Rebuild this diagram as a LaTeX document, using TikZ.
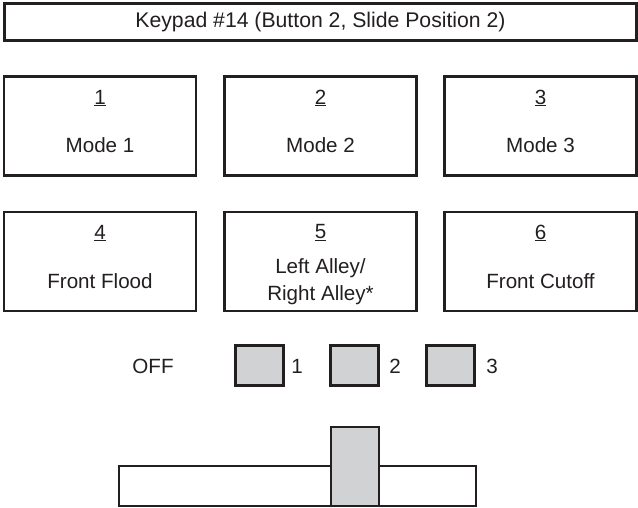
\documentclass[tikz,border=0pt]{standalone}
\usepackage{fontspec}
\setmainfont{Liberation Sans}
\definecolor{ink}{HTML}{231F20}
\definecolor{knob}{HTML}{D1D2D4}
\begin{document}
\begin{tikzpicture}[x=1pt,y=-1pt,
  box/.style={draw=ink,line width=2.4pt,inner sep=0pt,fill=white},
  keybox/.style={box,minimum width=192pt,minimum height=99pt},
  sq/.style={draw=ink,line width=2.4pt,fill=knob,inner sep=0pt,minimum width=48pt,minimum height=40pt},
  txt/.style={text=ink,inner sep=0pt,font=\fontsize{20.6}{25}\selectfont},
  ttl/.style={text=ink,inner sep=0pt,font=\fontsize{21.2}{25}\selectfont}]
\useasboundingbox (0,0) rectangle (638,508);
% title
\node[box,minimum width=632pt,minimum height=37pt] (title) at (320.5,22) {};
\node[ttl] (titletext) at (320.5,22) {Keypad \#14 (Button 2, Slide Position 2)};
% row 1
\node[keybox] (k1) at (100,126) {};
\node[keybox] (k2) at (320.5,126) {};
\node[keybox] (k3) at (540.5,126) {};
\node[txt] (n1) at (100,98) {\underline{1}};
\node[txt] (n2) at (320.5,98) {\underline{2}};
\node[txt] (n3) at (540.5,98) {\underline{3}};
\node[txt] (l1) at (100,145) {Mode 1};
\node[txt] (l2) at (320.5,145) {Mode 2};
\node[txt] (l3) at (540.5,145) {Mode 3};
% row 2
\node[keybox] (k4) at (100,261.5) {};
\node[keybox] (k5) at (320.5,261.5) {};
\node[keybox] (k6) at (540.5,261.5) {};
\node[txt] (n4) at (100,233) {\underline{4}};
\node[txt] (n5) at (320.5,233) {\underline{5}};
\node[txt] (n6) at (540.5,233) {\underline{6}};
\node[txt] (l4) at (100,281) {Front Flood};
\node[txt] (l5a) at (320.5,268) {Left Alley/};
\node[txt] (l5b) at (320.5,295) {Right Alley*};
\node[txt] (l6) at (540.5,281) {Front Cutoff};
% slide positions
\node[txt] (off) at (153,366) {OFF};
\node[sq] (s1) at (259.5,365.5) {};
\node[sq] (s2) at (354.5,365.5) {};
\node[sq] (s3) at (450.5,365.5) {};
\node[txt] (p1) at (297,366) {1};
\node[txt] (p2) at (395,366) {2};
\node[txt] (p3) at (492,366) {3};
% slider
\node[box,minimum width=357pt,minimum height=40pt] (bar) at (297.5,486) {};
\node[draw=ink,line width=2.4pt,fill=knob,inner sep=0pt,minimum width=48pt,minimum height=79pt] (slide) at (355,466.5) {};
\end{tikzpicture}
\end{document}
